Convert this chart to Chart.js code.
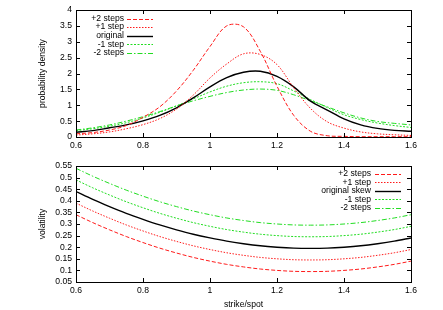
<!DOCTYPE html>
<html>
<head>
<meta charset="utf-8">
<script src="https://cdn.jsdelivr.net/npm/chart.js@4.4.1/dist/chart.umd.min.js"></script>
<style>
  body { margin: 0; background: #fff; }
  #wrap { position: relative; width: 443px; height: 310px; }
  #wrap canvas { position: absolute; left: 0; top: 0; }
</style>
</head>
<body>
<div id="wrap">
  <canvas id="densityChart" width="443" height="310"></canvas>
  <canvas id="volChart" width="443" height="310"></canvas>
</div>
<script>
// strike/spot grid shared by all curves
const strikes = [0.6, 0.65, 0.7, 0.75, 0.8, 0.85, 0.9, 0.95, 1.0, 1.05, 1.1,
                 1.15, 1.2, 1.25, 1.3, 1.35, 1.4, 1.45, 1.5, 1.55, 1.6];
const xTicks = [0.6, 0.8, 1, 1.2, 1.4, 1.6];
const densityTicks = [0, 0.5, 1, 1.5, 2, 2.5, 3, 3.5, 4];
const volTicks = [0.05, 0.1, 0.15, 0.2, 0.25, 0.3, 0.35, 0.4, 0.45, 0.5, 0.55];

const densityLabels = ['+2 steps', '+1 step', 'original', '-1 step', '-2 steps'];
const volLabels = ['+2 steps', '+1 step', 'original skew', '-1 step', '-2 steps'];

// probability density (top)
const densPlus2  = [0.1, 0.14, 0.22, 0.36, 0.62, 0.95, 1.45, 2.1, 2.85, 3.5, 3.47, 2.7, 1.6, 0.68, 0.18, 0.04, 0.02, 0.01, 0.01, 0.01, 0.01];
const densPlus1  = [0.06, 0.1, 0.16, 0.26, 0.39, 0.58, 0.88, 1.32, 1.86, 2.3, 2.62, 2.6, 2.28, 1.55, 0.9, 0.48, 0.28, 0.16, 0.1, 0.07, 0.05];
const densOrig   = [0.15, 0.2, 0.29, 0.38, 0.51, 0.68, 0.92, 1.23, 1.58, 1.87, 2.04, 2.07, 1.91, 1.58, 1.13, 0.85, 0.57, 0.38, 0.27, 0.21, 0.18];
const densMinus1 = [0.2, 0.26, 0.34, 0.45, 0.6, 0.78, 0.98, 1.2, 1.42, 1.6, 1.71, 1.74, 1.68, 1.45, 1.18, 0.93, 0.7, 0.55, 0.44, 0.36, 0.3];
const densMinus2 = [0.22, 0.29, 0.38, 0.5, 0.64, 0.8, 0.98, 1.14, 1.28, 1.4, 1.48, 1.51, 1.47, 1.33, 1.14, 0.95, 0.76, 0.6, 0.49, 0.43, 0.38];

// volatility skew (bottom)
const volPlus2  = [0.34, 0.306, 0.275, 0.246, 0.22, 0.196, 0.175, 0.156, 0.14, 0.126, 0.115, 0.106, 0.1, 0.096, 0.095, 0.096, 0.1, 0.106, 0.115, 0.126, 0.14];
const volPlus1  = [0.39, 0.356, 0.325, 0.296, 0.27, 0.246, 0.225, 0.206, 0.19, 0.176, 0.165, 0.156, 0.15, 0.146, 0.145, 0.146, 0.15, 0.156, 0.165, 0.176, 0.19];
const volOrig   = [0.44, 0.406, 0.375, 0.346, 0.32, 0.296, 0.275, 0.256, 0.24, 0.226, 0.215, 0.206, 0.2, 0.196, 0.195, 0.196, 0.2, 0.206, 0.215, 0.226, 0.24];
const volMinus1 = [0.49, 0.456, 0.425, 0.396, 0.37, 0.346, 0.325, 0.306, 0.29, 0.276, 0.265, 0.256, 0.25, 0.246, 0.245, 0.246, 0.25, 0.256, 0.265, 0.276, 0.29];
const volMinus2 = [0.54, 0.506, 0.475, 0.446, 0.42, 0.396, 0.375, 0.356, 0.34, 0.326, 0.315, 0.306, 0.3, 0.296, 0.295, 0.296, 0.3, 0.306, 0.315, 0.326, 0.34];

const FONT = { family: '"Liberation Sans", Arial, sans-serif', size: 8.6 };
const RED = '#ff1a1a', GREEN = '#22dd22';
const styles = [
  { color: RED, dash: [4, 2], width: 1 },
  { color: RED, dash: [1.5, 1.5], width: 1 },
  { color: '#000', dash: [], width: 1.4 },
  { color: GREEN, dash: [2, 1.5], width: 1 },
  { color: GREEN, dash: [5, 2, 1.5, 2], width: 1 }
];

function makeDatasets(labels, series, smooth) {
  return series.map((ys, i) => ({
    label: labels[i],
    data: strikes.map((x, j) => ({ x: x, y: ys[j] })),
    borderColor: styles[i].color,
    borderDash: styles[i].dash,
    borderWidth: styles[i].width,
    pointRadius: 0,
    fill: false,
    tension: 0.35,
    cubicInterpolationMode: smooth
  }));
}

const fmt = v => String(+v.toFixed(2));

// gnuplot-style box, inward ticks and key
const framePlugin = {
  id: 'frame',
  afterDatasetsDraw(chart, args, opts) {
    const { ctx, chartArea: a, scales } = chart;
    const xs = scales.x, ys = scales.y;
    ctx.save();
    ctx.strokeStyle = '#000';
    ctx.lineWidth = 1;
    ctx.setLineDash([]);
    ctx.strokeRect(a.left + 0.5, a.top + 0.5, a.right - a.left, a.bottom - a.top);
    ctx.beginPath();
    xs.ticks.forEach(t => {
      const px = Math.round(xs.getPixelForValue(t.value)) + 0.5;
      ctx.moveTo(px, a.bottom); ctx.lineTo(px, a.bottom - 4);
      ctx.moveTo(px, a.top); ctx.lineTo(px, a.top + 4);
    });
    ys.ticks.forEach(t => {
      const py = Math.round(ys.getPixelForValue(t.value)) + 0.5;
      ctx.moveTo(a.left, py); ctx.lineTo(a.left + 4, py);
      ctx.moveTo(a.right, py); ctx.lineTo(a.right - 4, py);
    });
    ctx.stroke();

    // key
    ctx.font = FONT.size + 'px ' + FONT.family;
    ctx.textAlign = 'right';
    ctx.textBaseline = 'middle';
    chart.data.datasets.forEach((ds, i) => {
      const y = opts.keyTop + i * opts.keyRow;
      ctx.fillStyle = '#000';
      ctx.fillText(ds.label, opts.keyTextRight, y);
      ctx.strokeStyle = ds.borderColor;
      ctx.lineWidth = ds.borderWidth;
      ctx.setLineDash(ds.borderDash);
      ctx.beginPath();
      ctx.moveTo(opts.keyLine0, Math.round(y) + 0.5);
      ctx.lineTo(opts.keyLine1, Math.round(y) + 0.5);
      ctx.stroke();
    });
    ctx.restore();
  }
};

function makeChart(id, datasets, yTicks, yMin, yMax, yTitle, pad, xAxisH, showXTitle, key) {
  return new Chart(document.getElementById(id), {
    type: 'line',
    data: { datasets: datasets },
    plugins: [framePlugin],
    options: {
      responsive: false,
      animation: false,
      devicePixelRatio: 1,
      layout: { padding: pad },
      plugins: { legend: { display: false }, tooltip: { enabled: false }, frame: key },
      scales: {
        x: {
          type: 'linear', min: 0.6, max: 1.6,
          grid: { display: false, drawTicks: false },
          border: { display: false },
          afterBuildTicks: s => { s.ticks = xTicks.map(v => ({ value: v })); },
          afterFit: s => { s.height = xAxisH; },
          ticks: { font: FONT, color: '#000', padding: 3, maxRotation: 0, autoSkip: false, callback: fmt },
          title: { display: showXTitle, text: 'strike/spot', font: FONT, color: '#000', padding: { top: 0, bottom: 0.5 } }
        },
        y: {
          min: yMin, max: yMax,
          grid: { display: false, drawTicks: false },
          border: { display: false },
          afterBuildTicks: s => { s.ticks = yTicks.map(v => ({ value: v })); },
          afterFit: s => { s.width = 76; },
          ticks: { font: FONT, color: '#000', padding: 4, autoSkip: false, callback: fmt },
          title: { display: true, text: yTitle, font: FONT, color: '#000', padding: { top: 37.8, bottom: 0 } }
        }
      }
    }
  });
}

makeChart('densityChart',
  makeDatasets(densityLabels, [densPlus2, densPlus1, densOrig, densMinus1, densMinus2], 'default'),
  densityTicks, 0, 4, 'probability density',
  { left: 0, right: 32, top: 10, bottom: 159 }, 14, false,
  { keyTop: 18.5, keyRow: 8.6, keyTextRight: 124, keyLine0: 127, keyLine1: 153 });

makeChart('volChart',
  makeDatasets(volLabels, [volPlus2, volPlus1, volOrig, volMinus1, volMinus2], 'monotone'),
  volTicks, 0.05, 0.55, 'volatility',
  { left: 0, right: 32, top: 166, bottom: 0 }, 28, true,
  { keyTop: 174, keyRow: 8.4, keyTextRight: 371, keyLine0: 375, keyLine1: 401 });
</script>
</body>
</html>
